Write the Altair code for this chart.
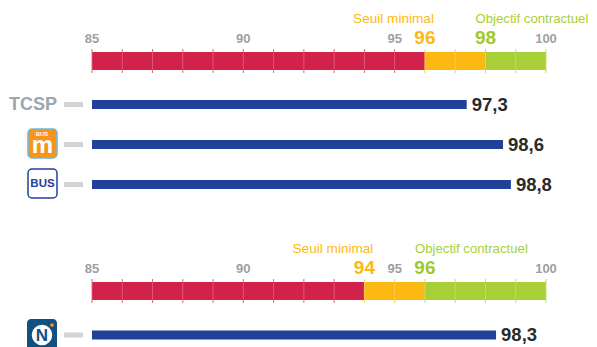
import altair as alt
import pandas as pd

SANS = "Liberation Sans"
RED, AMBER, GREEN, BLUE = "#d2214a", "#fdb913", "#a8cf38", "#21409a"
GREY, DARK = "#9d9fa2", "#2b2a29"

gauges = ["top", "bottom"]
seg_gauge = ["top", "top", "top", "bottom", "bottom", "bottom"]
seg_kind = ["rouge", "seuil", "objectif", "rouge", "seuil", "objectif"]
seg_start = [85, 96, 98, 85, 94, 96]
seg_end = [96, 98, 100, 94, 96, 100]

scale_values = [85, 90, 95, 100]
tick_values = list(range(85, 101))
thresholds = {"top": (96, 98), "bottom": (94, 96)}

row_names = ["TCSP", "M", "BUS"]
row_values = [97.38, 98.58, 98.84]
row_labels = ["97,3", "98,6", "98,8"]
n_name = ["N"]
n_value = [98.35]
n_label = ["98,3"]

X = dict(scale=alt.Scale(domain=[85, 100], range=[84, 538]), axis=None)
KIND = alt.Color("kind:N", scale=alt.Scale(domain=["rouge", "seuil", "objectif"],
                                            range=[RED, AMBER, GREEN]), legend=None)


def ys(domain, lo, hi):
    return alt.Y("row:N", axis=None,
                 scale=alt.Scale(type="point", domain=domain, range=[lo, hi], padding=0))


GY = ys(gauges, 53, 283)
RY = ys(row_names, 96.5, 176.5)
NY = ys(n_name, 327, 327)

segs = pd.DataFrame({"row": seg_gauge, "kind": seg_kind, "a": seg_start, "b": seg_end})
ticks = []
for g in gauges:
    low, high = thresholds[g]
    for v in tick_values:
        ticks.append({"row": g, "v": v, "kind": "rouge" if v < low else "seuil" if v < high else "objectif"})
ticks = pd.DataFrame(ticks)
scale_df = pd.DataFrame([{"row": g, "v": v} for g in gauges for v in scale_values])
seuil_df = pd.DataFrame([{"row": g, "v": thresholds[g][0]} for g in gauges])
obj_df = pd.DataFrame([{"row": g, "v": thresholds[g][1]} for g in gauges])
rows = pd.DataFrame({"row": row_names, "v": row_values, "start": 85, "label": row_labels})
nrow = pd.DataFrame({"row": n_name, "v": n_value, "start": 85, "label": n_label})

layers = []
# Gauge bars and ticks
layers.append(alt.Chart(segs).mark_bar(size=18).encode(
    x=alt.X("a:Q", **X), x2="b:Q", y=GY, color=KIND))
layers.append(alt.Chart(ticks).mark_tick(size=24, thickness=1).encode(
    x=alt.X("v:Q", **X), y=GY, color=KIND))
layers.append(alt.Chart(ticks).mark_tick(size=18, thickness=1, color="white", opacity=0.25).encode(
    x=alt.X("v:Q", **X), y=GY))
# Scale labels
layers.append(alt.Chart(scale_df).mark_text(font=SANS, fontSize=13, fontWeight="bold", color=GREY,
                                            baseline="middle", dy=-22).encode(
    x=alt.X("v:Q", **X), y=GY, text="v:Q"))
for df, col in ((seuil_df, AMBER), (obj_df, "#9ec92e")):
    layers.append(alt.Chart(df).mark_text(font=SANS, fontSize=19, fontWeight="bold", color=col,
                                          baseline="middle", dy=-23).encode(
        x=alt.X("v:Q", **X), y=GY, text="v:Q"))
layers.append(alt.Chart(seuil_df).transform_calculate(t="'Seuil minimal'").mark_text(
    font=SANS, fontSize=13.6, color=AMBER, align="right", baseline="middle", dx=9, dy=-42).encode(
    x=alt.X("v:Q", **X), y=GY, text="t:N"))
layers.append(alt.Chart(obj_df).transform_calculate(t="'Objectif contractuel'").mark_text(
    font=SANS, fontSize=13.2, color=GREEN, align="left", baseline="middle", dx=-10, dy=-42).encode(
    x=alt.X("v:Q", **X), y=GY, text="t:N"))
# Value bars, labels, dashes
for df, Y in ((rows, RY), (nrow, NY)):
    layers.append(alt.Chart(df).mark_bar(size=9, color=BLUE).encode(
        x=alt.X("start:Q", **X), x2="v:Q", y=Y))
    layers.append(alt.Chart(df).mark_text(font=SANS, fontSize=18.5, fontWeight="bold", color=DARK,
                                          align="left", baseline="middle", dx=5).encode(
        x=alt.X("v:Q", **X), y=Y, text="label:N"))
    layers.append(alt.Chart(df).mark_rule(strokeWidth=5, color="#d1d3d4").encode(
        x=alt.value(56), x2=alt.value(75), y=Y))
# Row name
layers.append(alt.Chart(rows[rows.row == "TCSP"]).mark_text(
    font=SANS, fontSize=18, fontWeight="bold", color="#9ba6ae",
    align="right", baseline="middle").encode(x=alt.value(49), y=RY, text="row:N"))


def box(x0, x1, y0, y1, **kw):
    return alt.Chart(pd.DataFrame({"a": [0]})).mark_rect(cornerRadius=4, **kw).encode(
        x=alt.value(x0), x2=alt.value(x1), y=alt.value(y0), y2=alt.value(y1))


def caption(x, y, text, **kw):
    return alt.Chart(pd.DataFrame({"t": [text]})).mark_text(baseline="middle", **kw).encode(
        x=alt.value(x), y=alt.value(y), text="t:N")


# Logos
layers += [
    box(20, 49, 121, 150, fill="#f7941e", stroke="#6cb8e0", strokeWidth=1.5),
    caption(34, 125.5, "BUS", font=SANS, fontSize=6, fontWeight="bold", color="white"),
    caption(34.5, 138, "m", font=SANS, fontSize=24, fontWeight="bold", color="white"),
    box(20, 49, 161, 190, fill="white", stroke="#21409a", strokeWidth=1.5),
    caption(34.5, 175.5, "BUS", font=SANS, fontSize=11.5, fontWeight="bold", color="#21409a"),
    box(19, 49, 311, 345, fill="#12507f"),
    alt.Chart(pd.DataFrame({"a": [0]})).mark_point(filled=True, shape="circle", size=420, color="white",
                                                   opacity=1).encode(
        x=alt.value(34), y=alt.value(327)),
    caption(34, 327.5, "N", font=SANS, fontSize=17, fontWeight="bold", color="#12507f"),
    alt.Chart(pd.DataFrame({"a": [0]})).mark_point(filled=True, shape="circle", size=14, color="#f7941e",
                                                   opacity=1).encode(x=alt.value(44), y=alt.value(317)),
]

chart = alt.layer(*layers).resolve_scale(y="independent", x="shared", color="shared").properties(
    width=581, height=339, padding=0, autosize=alt.AutoSizeParams(type="none")
).configure_view(stroke=None)

chart.save("out.html", embed_options={"renderer": "svg", "actions": False})
